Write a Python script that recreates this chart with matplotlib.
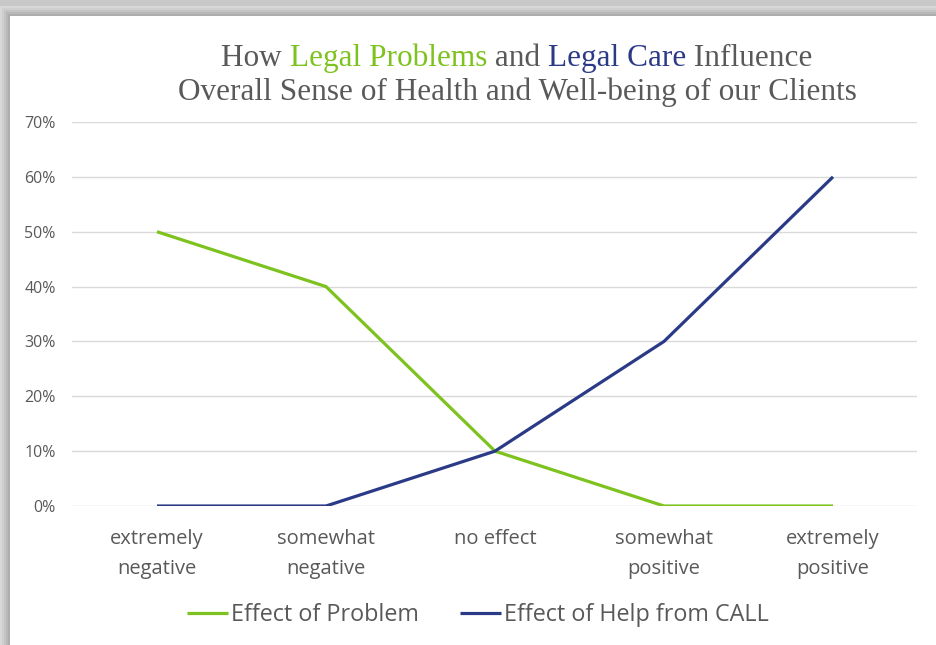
import matplotlib
matplotlib.use("Agg")
import matplotlib.pyplot as plt
from matplotlib.patches import Rectangle

# data
categories = ["extremely\nnegative", "somewhat\nnegative", "no effect",
              "somewhat\npositive", "extremely\npositive"]
problem = [0.50, 0.40, 0.10, 0.0, 0.0]
help_call = [0.0, 0.0, 0.10, 0.30, 0.60]
labels = ["Effect of Problem", "Effect of Help from CALL"]

green = "#7DC21E"
navy = "#2B3A87"
gray_text = "#595959"

fig = plt.figure(figsize=(9.37, 6.45), dpi=100)

# frame with shadow on top / left
fig.patches.append(Rectangle((0, 0), 1, 1, transform=fig.transFigure,
                             facecolor="#C8C8C8", edgecolor="none", zorder=-5))
for i, c in enumerate(["#D8D8D8", "#CFCFCF", "#C4C4C4", "#B8B8B8", "#ADADAD"]):
    fig.patches.append(Rectangle((2 * i / 937, 0), 1, (645 - 6 - 2 * i) / 645,
                                 transform=fig.transFigure, facecolor=c,
                                 edgecolor="none", zorder=-4 + i * 0.1))
fig.patches.append(Rectangle((10 / 937, 0), 1, (645 - 16) / 645,
                             transform=fig.transFigure, facecolor="white",
                             edgecolor="none", zorder=-3))

ax = fig.add_axes([72.5 / 937, 139 / 645, 845 / 937, 384 / 645])
ax.set_facecolor("none")
x = range(len(categories))
ax.plot(x, problem, color=green, lw=2.3, label=labels[0], solid_capstyle="butt")
ax.plot(x, help_call, color=navy, lw=2.3, label=labels[1], solid_capstyle="butt")

ax.set_xlim(-0.5, len(categories) - 0.5)
ax.set_ylim(0, 0.7)
ax.set_yticks([i / 10 for i in range(8)])
ax.set_yticklabels(["%d%%" % (i * 10) for i in range(8)])
ax.set_xticks(list(x))
ax.set_xticklabels(categories, linespacing=1.65)
ax.grid(axis="y", color="#D9D9D9", lw=1)
ax.set_axisbelow(True)
for s in ax.spines.values():
    s.set_visible(False)
ax.tick_params(axis="y", length=0, pad=12, labelsize=11.5, labelcolor=gray_text)
ax.tick_params(axis="x", length=0, pad=16.5, labelsize=14.5, labelcolor=gray_text)
for t in ax.get_xticklabels() + ax.get_yticklabels():
    t.set_family("Open Sans")

leg = fig.legend(loc="center", bbox_to_anchor=(478 / 937, 1 - 615 / 645), ncol=2,
                 frameon=False, prop={"family": "Open Sans", "size": 16.8},
                 handlelength=1.75, handletextpad=0.15, columnspacing=1.75)
for t in leg.get_texts():
    t.set_color(gray_text)

# title with coloured words
renderer = fig.canvas.get_renderer()
tfont = dict(family="Liberation Serif", size=22.5)
line1 = [("How ", gray_text), ("Legal Problems", green), (" and ", gray_text),
         ("Legal Care", navy), (" Influence", gray_text)]
widths = []
for s, c in line1:
    t = fig.text(0, 0, s, **tfont)
    widths.append(t.get_window_extent(renderer).width)
    t.remove()
xpos = 517 - sum(widths) / 2
for (s, c), w in zip(line1, widths):
    fig.text(xpos / 937, 1 - 66 / 645, s, color=c, ha="left", va="baseline", **tfont)
    xpos += w
fig.text(517 / 937, 1 - 100 / 645,
         "Overall Sense of Health and Well-being of our Clients",
         color=gray_text, ha="center", va="baseline", **tfont)

fig.savefig("out.png", dpi=100)
